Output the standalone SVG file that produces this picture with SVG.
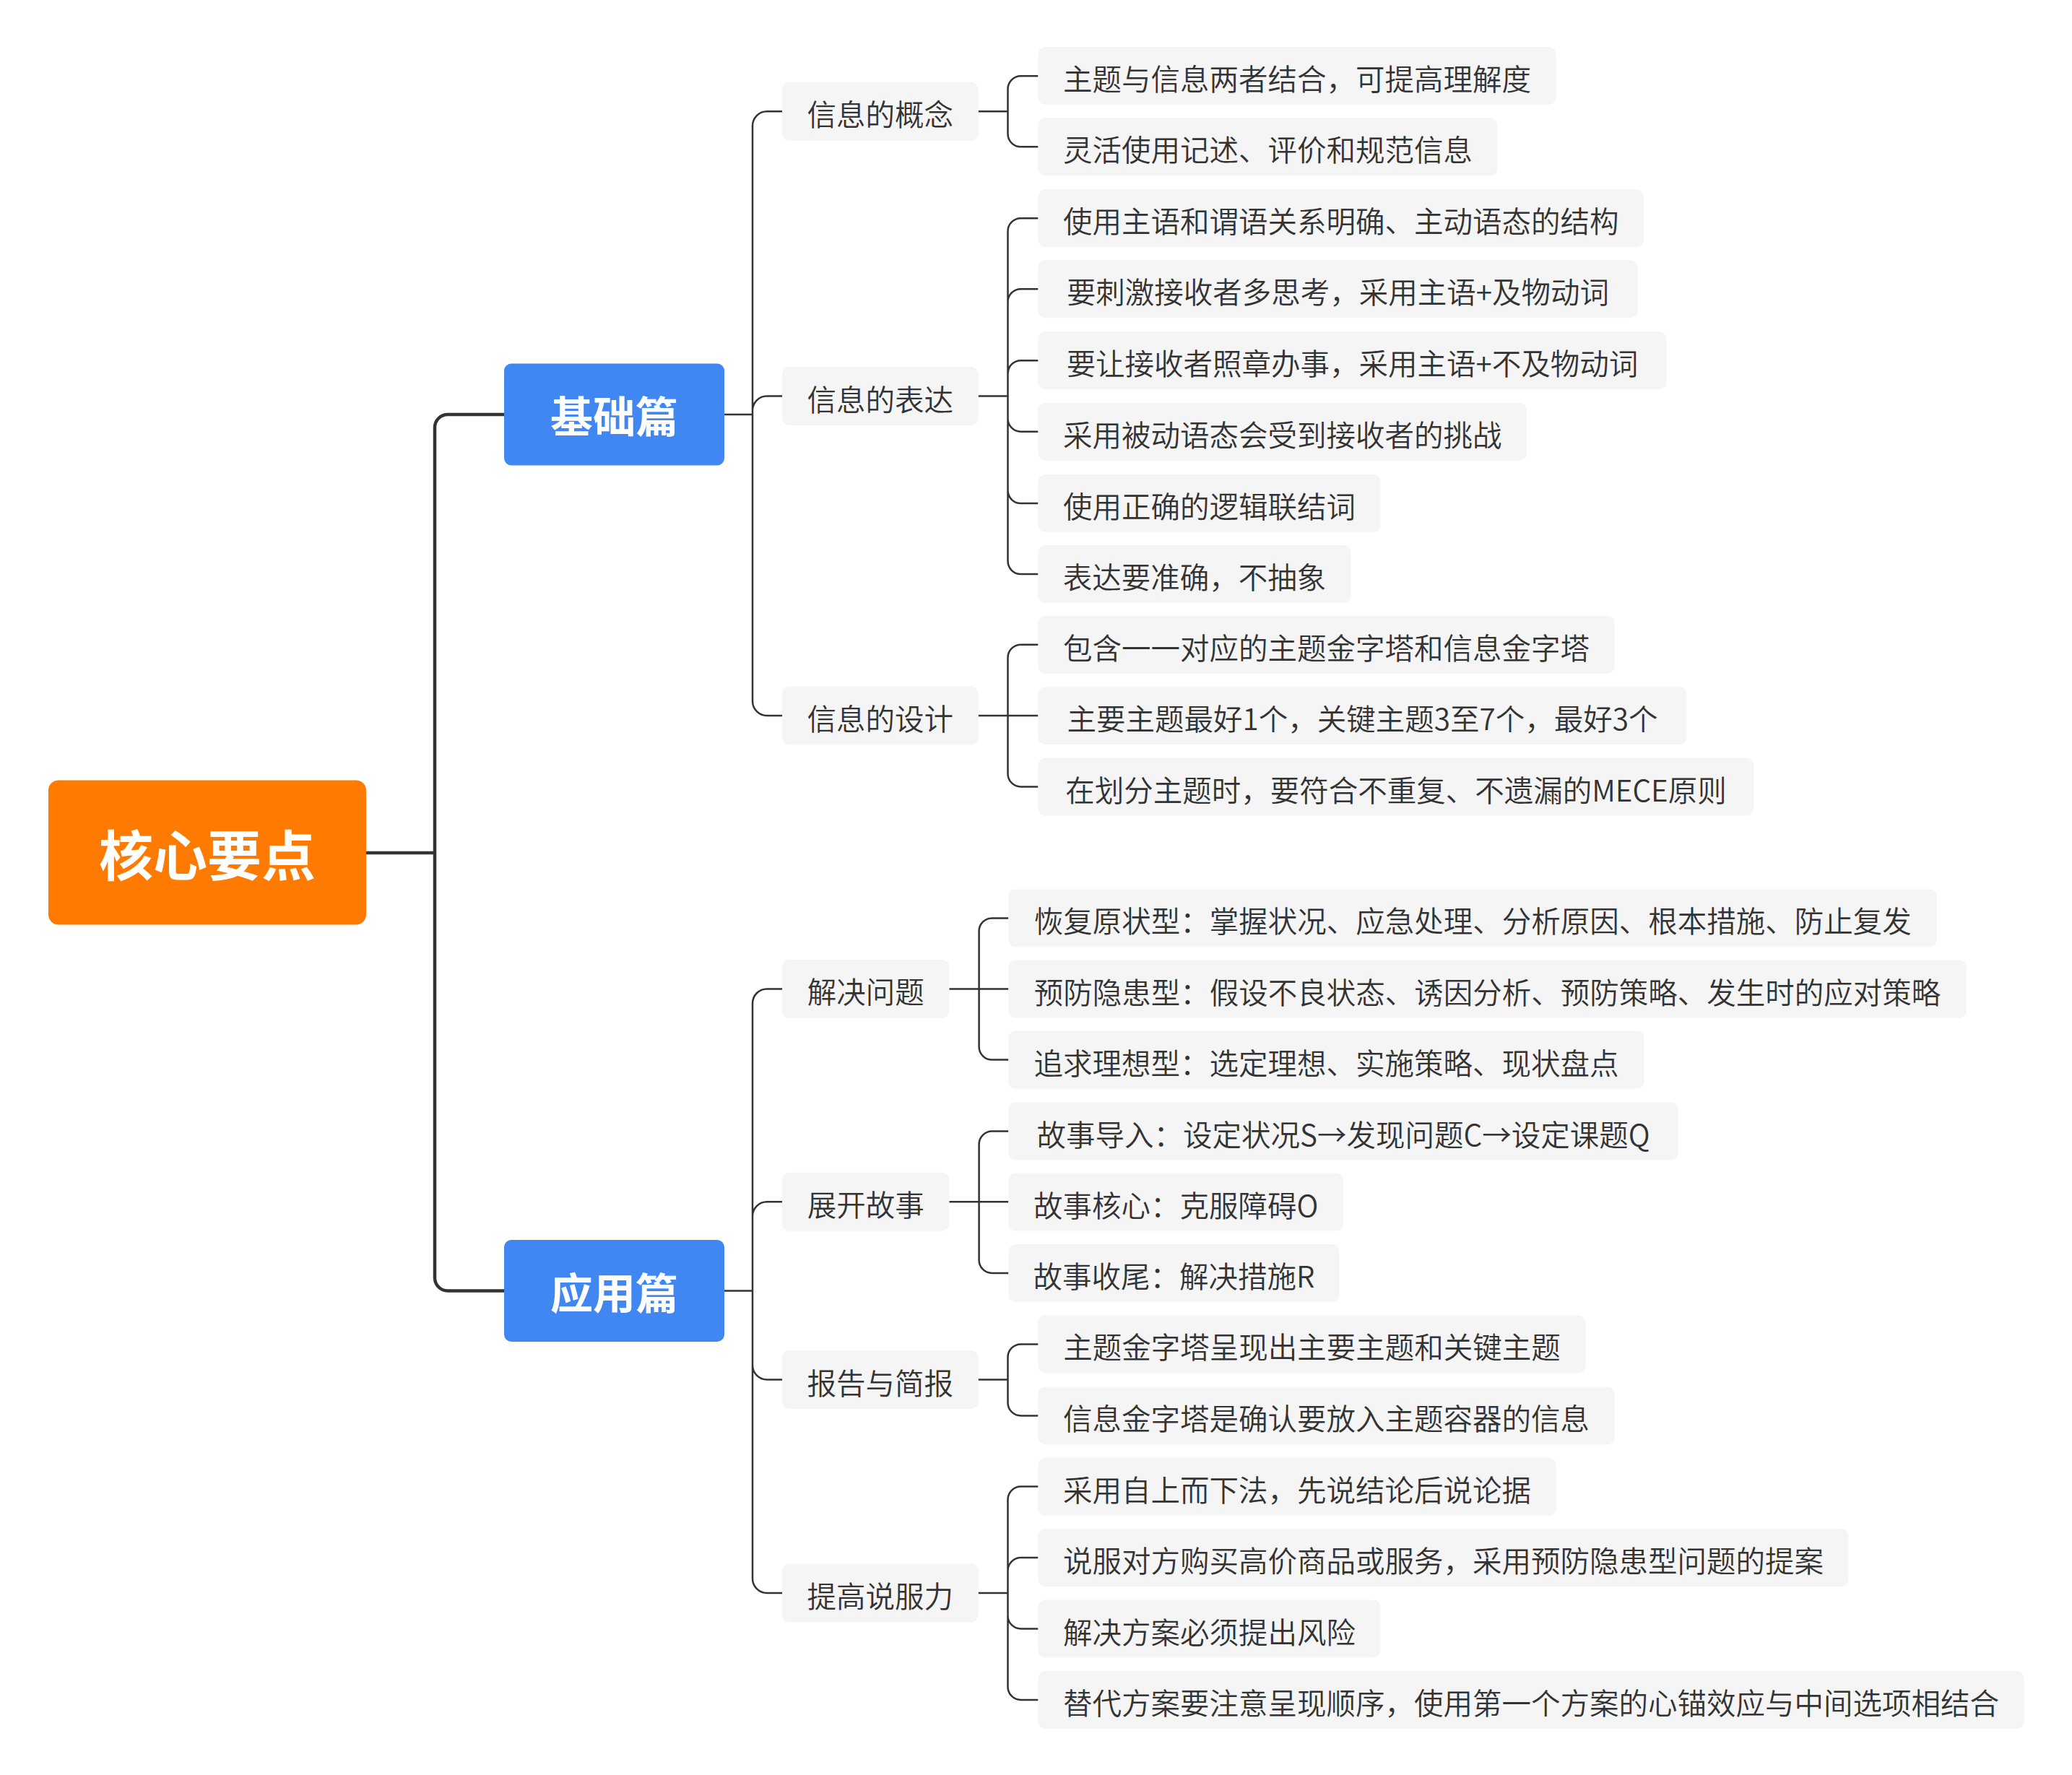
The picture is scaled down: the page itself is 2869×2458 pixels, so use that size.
<svg xmlns="http://www.w3.org/2000/svg" width="2869" height="2458" viewBox="0 0 2869 2458">
<style>
.t{font-family:"Noto Sans CJK SC","Noto Sans",sans-serif;text-anchor:middle}
.leaf rect,.sub rect{fill:#F5F5F5}
.leaf text,.sub text{font-size:40.5px;font-weight:350;fill:#333333}
.main text{font-size:59px;font-weight:700;fill:#FFFFFF}
.main rect{fill:#4187F2}
.root rect{fill:#FF7A00}
.root text{font-size:75px;font-weight:700;fill:#FFFFFF}
.c1{fill:none;stroke:#333333;stroke-width:4.5}
.c2{fill:none;stroke:#333333;stroke-width:2.5}
</style>
<rect width="2869" height="2458" fill="#FFFFFF"/>
<g id="connectors">
<path class="c1" d="M506.5 1181 H602 M602 1181 V592 A18 18 0 0 1 620 574 H698 M602 1181 V1769.5 A18 18 0 0 0 620 1787.5 H698"/>
<path class="c2" d="M1003 574 H1042 M1042 574 V174.3 A20 20 0 0 1 1062 154.3 H1083 M1042 574 V568.5 A20 20 0 0 1 1062 548.5 H1083 M1042 574 V971 A20 20 0 0 0 1062 991 H1083"/>
<path class="c2" d="M1003 1787.5 H1042 M1042 1787.5 V1389.4 A20 20 0 0 1 1062 1369.4 H1083 M1042 1787.5 V1684.3 A20 20 0 0 1 1062 1664.3 H1083 M1042 1787.5 V1890.5 A20 20 0 0 0 1062 1910.5 H1083 M1042 1787.5 V2186 A20 20 0 0 0 1062 2206 H1083"/>
<path class="c2" d="M1354.6 154.3 H1395.5 M1395.5 154.3 V123.3 A18 18 0 0 1 1413.5 105.3 H1437.5 M1395.5 154.3 V185.3 A18 18 0 0 0 1413.5 203.3 H1437.5"/>
<path class="c2" d="M1354.6 548.5 H1395.5 M1395.5 548.5 V320.2 A18 18 0 0 1 1413.5 302.2 H1437.5 M1395.5 548.5 V418.2 A18 18 0 0 1 1413.5 400.2 H1437.5 M1395.5 548.5 V517.2 A18 18 0 0 1 1413.5 499.2 H1437.5 M1395.5 548.5 V579.7 A18 18 0 0 0 1413.5 597.7 H1437.5 M1395.5 548.5 V679.1 A18 18 0 0 0 1413.5 697.1 H1437.5 M1395.5 548.5 V777.1 A18 18 0 0 0 1413.5 795.1 H1437.5"/>
<path class="c2" d="M1354.6 991 H1437.5 M1395.5 991 V910.7 A18 18 0 0 1 1413.5 892.7 H1437.5 M1395.5 991 V1071.5 A18 18 0 0 0 1413.5 1089.5 H1437.5"/>
<path class="c2" d="M1314.3 1369.4 H1396.4 M1355.6 1369.4 V1289.4 A18 18 0 0 1 1373.6 1271.4 H1396.4 M1355.6 1369.4 V1449.6 A18 18 0 0 0 1373.6 1467.6 H1396.4"/>
<path class="c2" d="M1314.3 1664.3 H1396.4 M1355.6 1664.3 V1584.5 A18 18 0 0 1 1373.6 1566.5 H1396.4 M1355.6 1664.3 V1745 A18 18 0 0 0 1373.6 1763 H1396.4"/>
<path class="c2" d="M1354.6 1910.5 H1395.5 M1395.5 1910.5 V1879.4 A18 18 0 0 1 1413.5 1861.4 H1437.5 M1395.5 1910.5 V1942.4 A18 18 0 0 0 1413.5 1960.4 H1437.5"/>
<path class="c2" d="M1354.6 2206 H1395.5 M1395.5 2206 V2076.5 A18 18 0 0 1 1413.5 2058.5 H1437.5 M1395.5 2206 V2175 A18 18 0 0 1 1413.5 2157 H1437.5 M1395.5 2206 V2237.5 A18 18 0 0 0 1413.5 2255.5 H1437.5 M1395.5 2206 V2336 A18 18 0 0 0 1413.5 2354 H1437.5"/>
</g>
<g id="root" class="root"><rect x="67" y="1080.5" width="440" height="200" rx="14"/><text class="t" x="287" y="1213">核心要点</text></g>
<g id="n-jichu" class="main"><rect x="698" y="503.5" width="305" height="141" rx="10"/><text class="t" x="850.5" y="599">基础篇</text></g>
<g id="n-yingyong" class="main"><rect x="698" y="1717" width="305" height="141" rx="10"/><text class="t" x="850.5" y="1813">应用篇</text></g>
<g id="n-gainian" class="sub"><rect x="1083" y="113.8" width="271.6" height="81" rx="10"/><text class="t" x="1218.8" y="174.3">信息的概念</text></g>
<g id="n-biaoda" class="sub"><rect x="1083" y="508" width="271.6" height="81" rx="10"/><text class="t" x="1218.8" y="568.5">信息的表达</text></g>
<g id="n-sheji" class="sub"><rect x="1083" y="950.5" width="271.6" height="81" rx="10"/><text class="t" x="1218.8" y="1011">信息的设计</text></g>
<g id="n-jiejue" class="sub"><rect x="1083" y="1328.9" width="231.3" height="81" rx="10"/><text class="t" x="1198.7" y="1389.4">解决问题</text></g>
<g id="n-zhankai" class="sub"><rect x="1083" y="1623.8" width="231.3" height="81" rx="10"/><text class="t" x="1198.7" y="1684.3">展开故事</text></g>
<g id="n-baogao" class="sub"><rect x="1083" y="1870" width="271.6" height="81" rx="10"/><text class="t" x="1218.8" y="1930.5">报告与简报</text></g>
<g id="n-shuofu" class="sub"><rect x="1083" y="2165.5" width="271.6" height="81" rx="10"/><text class="t" x="1218.8" y="2226">提高说服力</text></g>
<g id="l01" class="leaf"><rect x="1437.5" y="65.3" width="717" height="80" rx="10"/><text class="t" x="1796" y="125.3">主题与信息两者结合，可提高理解度</text></g>
<g id="l02" class="leaf"><rect x="1437.5" y="163.3" width="636" height="80" rx="10"/><text class="t" x="1755.5" y="223.3">灵活使用记述、评价和规范信息</text></g>
<g id="l03" class="leaf"><rect x="1437.5" y="262.2" width="838.5" height="80" rx="10"/><text class="t" x="1856.8" y="322.2">使用主语和谓语关系明确、主动语态的结构</text></g>
<g id="l04" class="leaf"><rect x="1437.5" y="360.2" width="830" height="80" rx="10"/><text class="t" x="1852.5" y="420.2">要刺激接收者多思考，采用主语+及物动词</text></g>
<g id="l05" class="leaf"><rect x="1437.5" y="459.2" width="870" height="80" rx="10"/><text class="t" x="1872.5" y="519.2">要让接收者照章办事，采用主语+不及物动词</text></g>
<g id="l06" class="leaf"><rect x="1437.5" y="557.7" width="676.5" height="80" rx="10"/><text class="t" x="1775.8" y="617.7">采用被动语态会受到接收者的挑战</text></g>
<g id="l07" class="leaf"><rect x="1437.5" y="657.1" width="474" height="80" rx="10"/><text class="t" x="1674.5" y="717.1">使用正确的逻辑联结词</text></g>
<g id="l08" class="leaf"><rect x="1437.5" y="755.1" width="433" height="80" rx="10"/><text class="t" x="1654" y="815.1">表达要准确，不抽象</text></g>
<g id="l09" class="leaf"><rect x="1437.5" y="852.7" width="798" height="80" rx="10"/><text class="t" x="1836.5" y="912.7">包含一一对应的主题金字塔和信息金字塔</text></g>
<g id="l10" class="leaf"><rect x="1437.5" y="951" width="898" height="80" rx="10"/><text class="t" x="1886.5" y="1011">主要主题最好1个，关键主题3至7个，最好3个</text></g>
<g id="l11" class="leaf"><rect x="1437.5" y="1049.5" width="991" height="80" rx="10"/><text class="t" x="1933" y="1109.5">在划分主题时，要符合不重复、不遗漏的MECE原则</text></g>
<g id="l12" class="leaf"><rect x="1396.4" y="1231.4" width="1285.6" height="80" rx="10"/><text class="t" x="2039.2" y="1291.4">恢复原状型：掌握状况、应急处理、分析原因、根本措施、防止复发</text></g>
<g id="l13" class="leaf"><rect x="1396.4" y="1329.6" width="1326.4" height="80" rx="10"/><text class="t" x="2059.6" y="1389.6">预防隐患型：假设不良状态、诱因分析、预防策略、发生时的应对策略</text></g>
<g id="l14" class="leaf"><rect x="1396.4" y="1427.6" width="880.2" height="80" rx="10"/><text class="t" x="1836.5" y="1487.6">追求理想型：选定理想、实施策略、现状盘点</text></g>
<g id="l15" class="leaf"><rect x="1396.4" y="1526.5" width="927.2" height="80" rx="10"/><text class="t" x="1860" y="1586.5">故事导入：设定状况S→发现问题C→设定课题Q</text></g>
<g id="l16" class="leaf"><rect x="1396.4" y="1624.5" width="463.5" height="80" rx="10"/><text class="t" x="1628.2" y="1684.5">故事核心：克服障碍O</text></g>
<g id="l17" class="leaf"><rect x="1396.4" y="1723" width="458" height="80" rx="10"/><text class="t" x="1625.4" y="1783">故事收尾：解决措施R</text></g>
<g id="l18" class="leaf"><rect x="1437.5" y="1821.4" width="758" height="80" rx="10"/><text class="t" x="1816.5" y="1881.4">主题金字塔呈现出主要主题和关键主题</text></g>
<g id="l19" class="leaf"><rect x="1437.5" y="1920.4" width="798" height="80" rx="10"/><text class="t" x="1836.5" y="1980.4">信息金字塔是确认要放入主题容器的信息</text></g>
<g id="l20" class="leaf"><rect x="1437.5" y="2018.5" width="717" height="80" rx="10"/><text class="t" x="1796" y="2078.5">采用自上而下法，先说结论后说论据</text></g>
<g id="l21" class="leaf"><rect x="1437.5" y="2117" width="1122" height="80" rx="10"/><text class="t" x="1998.5" y="2177">说服对方购买高价商品或服务，采用预防隐患型问题的提案</text></g>
<g id="l22" class="leaf"><rect x="1437.5" y="2215.5" width="474" height="80" rx="10"/><text class="t" x="1674.5" y="2275.5">解决方案必须提出风险</text></g>
<g id="l23" class="leaf"><rect x="1437.5" y="2314" width="1365" height="80" rx="10"/><text class="t" x="2120" y="2374">替代方案要注意呈现顺序，使用第一个方案的心锚效应与中间选项相结合</text></g>
</svg>
